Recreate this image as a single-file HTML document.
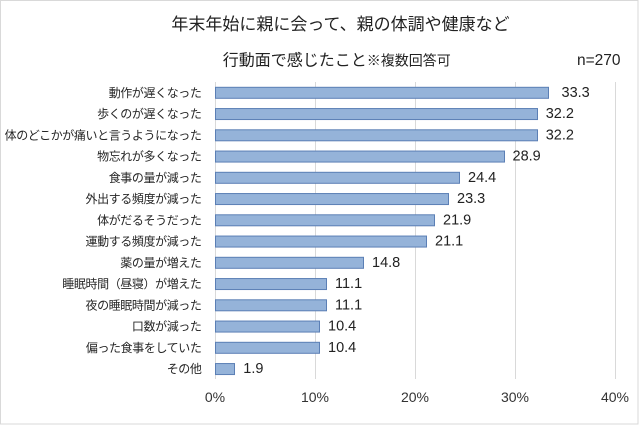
<!DOCTYPE html>
<html><head><meta charset="utf-8"><style>
html,body{margin:0;padding:0;background:#fff;}
svg{display:block;}
text{font-family:"Liberation Sans","Noto Sans CJK JP",sans-serif;}
</style></head><body>
<svg width="640" height="426" viewBox="0 0 640 426" xmlns="http://www.w3.org/2000/svg">
<rect x="0.5" y="0.5" width="637.5" height="423.5" fill="#fff" stroke="#d9d9d9" stroke-width="1"/>
<text x="340.5" y="24.5" font-size="17" fill="#222" text-anchor="middle" dominant-baseline="central">年末年始に親に会って、親の体調や健康など</text>
<text x="222.7" y="60.5" fill="#222" dominant-baseline="central"><tspan font-size="16">行動面で感じたこと</tspan><tspan font-size="14">※複数回答可</tspan></text>
<text x="577" y="60.5" font-size="15.5" fill="#222" dominant-baseline="central">n=270</text>
<g stroke="#d9d9d9" stroke-width="1">
<line x1="315.5" y1="82" x2="315.5" y2="379"/>
<line x1="415.5" y1="82" x2="415.5" y2="379"/>
<line x1="515.5" y1="82" x2="515.5" y2="379"/>
<line x1="615.5" y1="82" x2="615.5" y2="379"/>
<line x1="215.5" y1="82" x2="215.5" y2="379"/>
</g>
<g fill="#95b3d9" stroke="#5b7fb5" stroke-width="1">
<rect x="215.5" y="87.3" width="333" height="11"/>
<rect x="215.5" y="108.55" width="322" height="11"/>
<rect x="215.5" y="129.8" width="322" height="11"/>
<rect x="215.5" y="151.05" width="289" height="11"/>
<rect x="215.5" y="172.3" width="244" height="11"/>
<rect x="215.5" y="193.55" width="233" height="11"/>
<rect x="215.5" y="214.8" width="219" height="11"/>
<rect x="215.5" y="236.05" width="211" height="11"/>
<rect x="215.5" y="257.3" width="148" height="11"/>
<rect x="215.5" y="278.55" width="111" height="11"/>
<rect x="215.5" y="299.8" width="111" height="11"/>
<rect x="215.5" y="321.05" width="104" height="11"/>
<rect x="215.5" y="342.3" width="104" height="11"/>
<rect x="215.5" y="363.55" width="19" height="11"/>
</g>
<g font-size="12" fill="#262626" text-anchor="end" letter-spacing="-0.4" dominant-baseline="central">
<text x="201.5" y="92.8">動作が遅くなった</text>
<text x="201.5" y="114.05">歩くのが遅くなった</text>
<text x="201.5" y="135.3">体のどこかが痛いと言うようになった</text>
<text x="201.5" y="156.55">物忘れが多くなった</text>
<text x="201.5" y="177.8">食事の量が減った</text>
<text x="201.5" y="199.05">外出する頻度が減った</text>
<text x="201.5" y="220.3">体がだるそうだった</text>
<text x="201.5" y="241.55">運動する頻度が減った</text>
<text x="201.5" y="262.8">薬の量が増えた</text>
<text x="201.5" y="284.05">睡眠時間（昼寝）が増えた</text>
<text x="201.5" y="305.3">夜の睡眠時間が減った</text>
<text x="201.5" y="326.55">口数が減った</text>
<text x="201.5" y="347.8">偏った食事をしていた</text>
<text x="201.5" y="369.05">その他</text>
</g>
<g font-size="14.5" fill="#222" dominant-baseline="central">
<text x="561.5" y="92.8">33.3</text>
<text x="545.7" y="114.05">32.2</text>
<text x="545.7" y="135.3">32.2</text>
<text x="512.5" y="156.55">28.9</text>
<text x="468" y="177.8">24.4</text>
<text x="457" y="199.05">23.3</text>
<text x="443" y="220.3">21.9</text>
<text x="435" y="241.55">21.1</text>
<text x="372" y="262.8">14.8</text>
<text x="335" y="284.05">11.1</text>
<text x="335" y="305.3">11.1</text>
<text x="328" y="326.55">10.4</text>
<text x="328" y="347.8">10.4</text>
<text x="243.3" y="369.05">1.9</text>
</g>
<g font-size="14" fill="#333" text-anchor="middle" dominant-baseline="central">
<text x="215" y="397">0%</text>
<text x="315" y="397">10%</text>
<text x="415" y="397">20%</text>
<text x="515" y="397">30%</text>
<text x="615" y="397">40%</text>
</g>
</svg>
</body></html>
